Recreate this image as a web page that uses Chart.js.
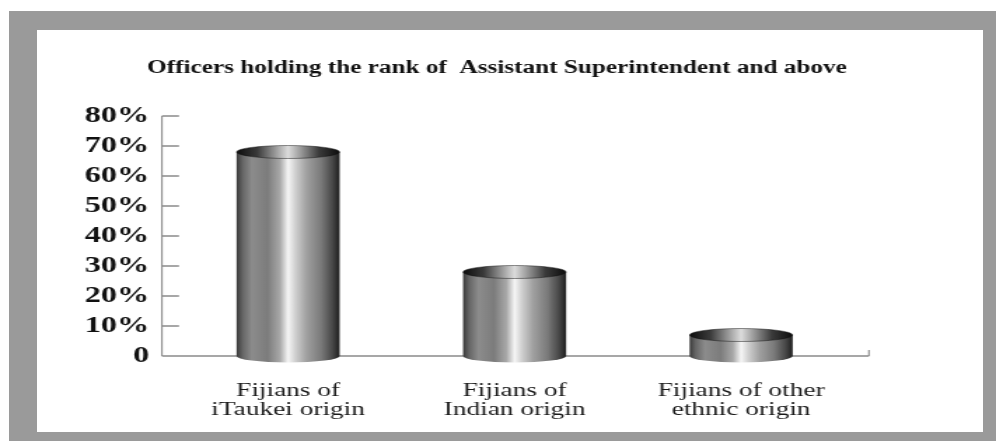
<!DOCTYPE html>
<html>
<head>
<meta charset="utf-8">
<script src="https://cdn.jsdelivr.net/npm/chart.js@4.4.1/dist/chart.umd.min.js"></script>
<style>
  html, body { margin: 0; padding: 0; background: #fff; overflow: hidden; }
  #frame { position: absolute; left: 9px; top: 11px; width: 987px; height: 430px; background: #9a9a9a; }
  #panel { position: absolute; left: 37px; top: 30px; width: 946px; height: 402px; background: #fff; }
  /* the source picture is stretched sideways, so the chart is drawn narrow and widened */
  #wrap { position: absolute; left: 0; top: 0; width: 711px; height: 441px; transform: scaleX(1.4008); transform-origin: 0 0; }
</style>
</head>
<body>
<div id="frame"></div>
<div id="panel"></div>
<div id="wrap"><canvas id="chart"></canvas></div>
<script>
const categories = [['Fijians of', 'iTaukei origin'], ['Fijians of', 'Indian origin'], ['Fijians of other', 'ethnic origin']];
const shares = [68, 28, 7];
const yTicks = [0, 10, 20, 30, 40, 50, 60, 70, 80];
const titleText = 'Officers holding the rank of  Assistant Superintendent and above';

Chart.defaults.font.family = "'Liberation Serif', 'Times New Roman', serif";

// Title sits centred on the page, not on the space left of the plot
const titleShift = {
    id: 'titleShift',
    afterLayout(chart) {
        const t = chart.titleBlock;
        if (t) { t.left = 0; t.right = 709.6; }
    }
};

// Axis lines with inward tick marks
const axisFrame = {
    id: 'axisFrame',
    beforeDatasetsDraw(chart) {
        const { ctx, chartArea, scales } = chart;
        const y = scales.y;
        const x0 = chartArea.left - 9.2;
        const x1 = chartArea.right + 10.4;
        const y0 = y.getPixelForValue(0);
        ctx.save();
        ctx.strokeStyle = '#8a8a8a';
        ctx.lineWidth = 1.1;
        ctx.beginPath();
        ctx.moveTo(x0, y.getPixelForValue(yTicks[yTicks.length - 1]));
        ctx.lineTo(x0, y0);
        ctx.moveTo(x1, y0);
        ctx.lineTo(x1, y0 - 6);
        ctx.stroke();
        ctx.lineWidth = 1.6;
        ctx.beginPath();
        ctx.moveTo(x0, y0);
        ctx.lineTo(x1, y0);
        yTicks.forEach(v => {
            if (v === 0) return;
            const py = y.getPixelForValue(v);
            ctx.moveTo(x0, py);
            ctx.lineTo(x0 + 12.2, py);
        });
        ctx.stroke();
        ctx.restore();
    }
};

// Cylinders drawn over the (transparent) bars
const cylinders = {
    id: 'cylinders',
    afterDatasetsDraw(chart) {
        const ctx = chart.ctx;
        chart.getDatasetMeta(0).data.forEach(bar => {
            const p = bar.getProps(['x', 'y', 'base', 'width'], true);
            const l = p.x - p.width / 2, r = p.x + p.width / 2, rx = p.width / 2, ry = 6.5;
            ctx.save();
            const body = ctx.createLinearGradient(l, 0, r, 0);
            body.addColorStop(0, '#3a3a3a');
            body.addColorStop(0.06, '#666');
            body.addColorStop(0.15, '#8c8c8c');
            body.addColorStop(0.3, '#7c7c7c');
            body.addColorStop(0.42, '#a8a8a8');
            body.addColorStop(0.5, '#f6f6f6');
            body.addColorStop(0.57, '#d0d0d0');
            body.addColorStop(0.68, '#a0a0a0');
            body.addColorStop(0.82, '#7a7a7a');
            body.addColorStop(0.93, '#484848');
            body.addColorStop(1, '#1e1e1e');
            ctx.fillStyle = body;
            ctx.beginPath();
            ctx.moveTo(l, p.y);
            ctx.lineTo(l, p.base);
            ctx.ellipse(p.x, p.base, rx, ry, 0, Math.PI, 0, true);
            ctx.lineTo(r, p.y);
            ctx.closePath();
            ctx.fill();

            const top = ctx.createLinearGradient(l, 0, r, 0);
            top.addColorStop(0, '#0c0c0c');
            top.addColorStop(0.2, '#3a3a3a');
            top.addColorStop(0.5, '#dcdcdc');
            top.addColorStop(0.8, '#3a3a3a');
            top.addColorStop(1, '#0c0c0c');
            ctx.fillStyle = top;
            ctx.beginPath();
            ctx.ellipse(p.x, p.y, rx, ry, 0, 0, Math.PI * 2);
            ctx.fill();
            ctx.strokeStyle = 'rgba(20,20,20,0.6)';
            ctx.lineWidth = 0.8;
            ctx.stroke();
            ctx.restore();
        });
    }
};

new Chart(document.getElementById('chart'), {
    type: 'bar',
    data: {
        labels: categories,
        datasets: [{
            data: shares,
            backgroundColor: 'rgba(0,0,0,0)',
            borderWidth: 0,
            barPercentage: 0.455,
            categoryPercentage: 1
        }]
    },
    options: {
        responsive: true,
        maintainAspectRatio: false,
        animation: false,
        layout: { padding: { left: 0, right: 101.1, top: 0, bottom: 0 } },
        plugins: {
            legend: { display: false },
            tooltip: { enabled: false },
            title: {
                display: true,
                text: titleText,
                color: '#111',
                font: { size: 18, weight: 'bold' },
                padding: { top: 57.2, bottom: 37.2 }
            }
        },
        scales: {
            x: {
                grid: { display: false, drawTicks: false },
                border: { display: false },
                ticks: {
                    color: '#1a1a1a',
                    font: { size: 19.5, lineHeight: 1 },
                    padding: 25,
                    maxRotation: 0,
                    autoSkip: false
                },
                afterFit(scale) { scale.height = 85; }
            },
            y: {
                min: 0,
                max: 80,
                grid: { display: false, drawTicks: false },
                border: { display: false },
                afterBuildTicks(scale) { scale.ticks = yTicks.map(v => ({ value: v })); },
                ticks: {
                    color: '#111',
                    font: { size: 23, weight: 'bold' },
                    padding: 18.4,
                    autoSkip: false,
                    callback: v => v === 0 ? '0' : v + '%'
                },
                afterFit(scale) { scale.width = 124.8; }
            }
        }
    },
    plugins: [titleShift, axisFrame, cylinders]
});
</script>
</body>
</html>
